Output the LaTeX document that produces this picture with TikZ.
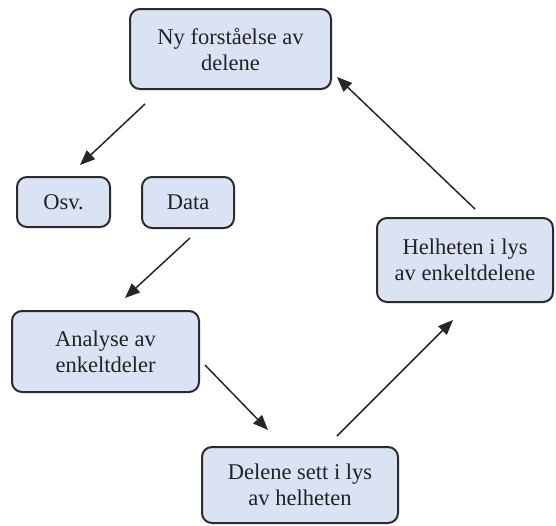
\documentclass[tikz,border=0pt]{standalone}
\usepackage{fontspec}
\setmainfont{Liberation Serif}
\usetikzlibrary{arrows.meta}
\definecolor{boxfill}{HTML}{DAE3F3}
\definecolor{boxline}{HTML}{2B2B2B}
\definecolor{textgrey}{HTML}{222222}
\begin{document}
\begin{tikzpicture}[x=1pt,y=-1pt,
  stagebox/.style={draw=boxline, line width=2pt, fill=boxfill, rounded corners=10pt,
    align=center, text=textgrey, inner sep=0pt,
    font=\fontsize{22.5}{26}\selectfont},
  flow/.style={draw=black!85, line width=1.5pt,
    -{Triangle[length=15pt,width=12pt]}}]
\useasboundingbox (0,0) rectangle (556,525);

% boxes
\node[stagebox, minimum width=201pt, minimum height=80pt] (top) at (230.5,49) {Ny forståelse av\\delene};
\node[stagebox, minimum width=93pt, minimum height=50pt] (osv) at (63.5,202) {Osv.};
\node[stagebox, minimum width=92pt, minimum height=51pt] (data) at (188,202.5) {Data};
\node[stagebox, minimum width=187pt, minimum height=81pt] (analyse) at (105.5,351.5) {Analyse av\\enkeltdeler};
\node[stagebox, minimum width=196pt, minimum height=76pt] (delene) at (300,485) {Delene sett i lys\\av helheten};
\node[stagebox, minimum width=176pt, minimum height=84pt] (helheten) at (465,260) {Helheten i lys\\av enkeltdelene};

% free ends of the connectors
\coordinate (topOut) at (145,104);
\coordinate (osvIn) at (80,165);
\coordinate (dataOut) at (190,238);
\coordinate (analyseIn) at (125,298);
\coordinate (analyseOut) at (205,365);
\coordinate (deleneIn) at (268,430);
\coordinate (deleneOut) at (337,436);
\coordinate (helhetenIn) at (453,320);
\coordinate (helhetenOut) at (475,209);
\coordinate (topIn) at (337,77);

% connectors
\draw[flow] (topOut) -- (osvIn);
\draw[flow] (dataOut) -- (analyseIn);
\draw[flow] (analyseOut) -- (deleneIn);
\draw[flow] (deleneOut) -- (helhetenIn);
\draw[flow] (helhetenOut) -- (topIn);
\end{tikzpicture}
\end{document}
